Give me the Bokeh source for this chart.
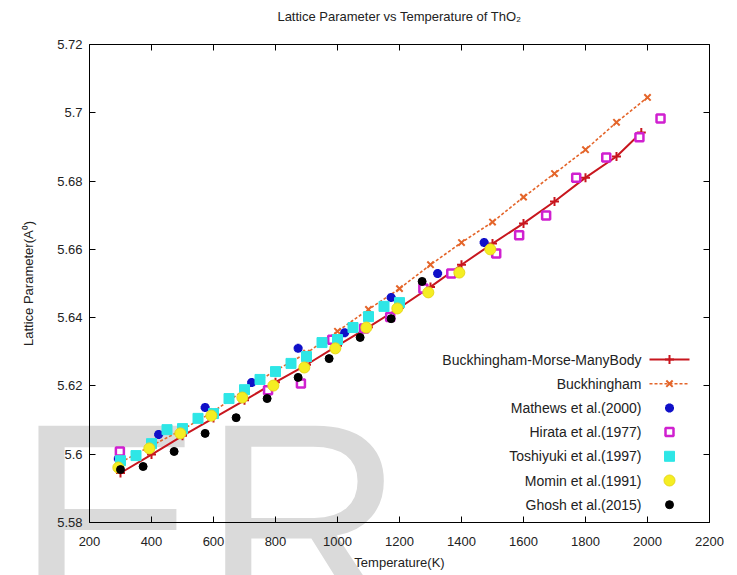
from bokeh.plotting import figure
from bokeh.models import Range1d, LinearAxis, FixedTicker, Label
from bokeh.core.properties import value
from bokeh.embed import file_html
from bokeh.resources import INLINE

FONT = "Liberation Sans"

# ---------------- data ----------------
x_ticks = [200, 400, 600, 800, 1000, 1200, 1400, 1600, 1800, 2000, 2200]
y_ticks = [5.58, 5.60, 5.62, 5.64, 5.66, 5.68, 5.70, 5.72]
y_tick_labels = ["5.58", "5.6", "5.62", "5.64", "5.66", "5.68", "5.7", "5.72"]

bmm_T = [300, 400, 500, 600, 700, 800, 900, 1000, 1100, 1200, 1300, 1400,
         1500, 1600, 1700, 1800, 1900, 1980]
bmm_a = [5.5945, 5.5999, 5.6054, 5.6106, 5.6158, 5.6211, 5.6262, 5.6318,
         5.6372, 5.6429, 5.6490, 5.6555, 5.6617, 5.6676, 5.6740, 5.6810,
         5.6872, 5.6942]

buck_T = [300, 400, 500, 600, 700, 800, 900, 1000, 1100, 1200, 1300, 1400,
          1500, 1600, 1700, 1800, 1900, 2000]
buck_a = [5.5976, 5.6025, 5.6072, 5.6125, 5.6189, 5.6245, 5.6296, 5.6360,
          5.6424, 5.6485, 5.6555, 5.6620, 5.6680, 5.6753, 5.6822, 5.6892,
          5.6972, 5.7045]

mathews_T = [293, 423, 573, 723, 873, 1023, 1173, 1323, 1473]
mathews_a = [5.5987, 5.6058, 5.6137, 5.6210, 5.6310, 5.6356, 5.6459, 5.6529, 5.6620]

hirata_T = [298, 776, 882, 983, 1086, 1170, 1277, 1367, 1512, 1586, 1673,
            1770, 1867, 1974, 2042]
hirata_a = [5.6008, 5.6187, 5.6207, 5.6335, 5.6368, 5.6402, 5.6485, 5.6529,
            5.6588, 5.6641, 5.6699, 5.6810, 5.6869, 5.6928, 5.6983]

toshi_T = [300, 350, 400, 450, 500, 550, 600, 650, 700, 750, 800, 850, 900,
           950, 1000, 1050, 1100, 1150, 1200]
toshi_a = [5.5981, 5.5996, 5.6031, 5.6072, 5.6075, 5.6105, 5.6119, 5.6163,
           5.6189, 5.6219, 5.6242, 5.6266, 5.6286, 5.6327, 5.6336, 5.6371,
           5.6403, 5.6433, 5.6444]

momin_T = [293, 393, 493, 593, 693, 793, 893, 993, 1093, 1193, 1293, 1393, 1493]
momin_a = [5.5961, 5.6017, 5.6061, 5.6113, 5.6166, 5.6201, 5.6254, 5.6310,
           5.6371, 5.6427, 5.6474, 5.6532, 5.6600]

ghosh_T = [300, 373, 473, 573, 673, 773, 873, 973, 1073, 1173, 1273]
ghosh_a = [5.5955, 5.5964, 5.6008, 5.6061, 5.6107, 5.6163, 5.6225, 5.6280,
           5.6342, 5.6397, 5.6506]

legend_labels = ["Buckhingham-Morse-ManyBody", "Buckhingham", "Mathews et al.(2000)",
                 "Hirata et al.(1977)", "Toshiyuki et al.(1997)", "Momin et al.(1991)",
                 "Ghosh et al.(2015)"]

# ---------------- styles ----------------
RED = "#c8161e"
ORANGE = "#e4652a"
BLUE = "#1010c8"
MAGENTA = "#d020d0"
CYAN = "#2ee6e6"
YELLOW = "#f5ee22"
BLACK = "#000000"
TXT = "#222222"

W, H = 737, 575
FL, FR, FT, FB = 89, 709, 44, 522   # plot box edges in canvas px
XMIN, XMAX, YMIN, YMAX = 200, 2200, 5.58, 5.72
KX = (XMAX - XMIN) / (FR - FL)
KY = (YMAX - YMIN) / (FB - FT)

def px2x(px):
    return XMIN + (px - FL) * KX

def px2y(py):
    return YMAX - (py - FT) * KY

# the frame covers the whole canvas; axes sit at fixed locations on the plot box,
# so the watermark can extend past the box without being clipped
p = figure(width=W, height=H,
           x_range=Range1d(px2x(0), px2x(W)), y_range=Range1d(px2y(H), px2y(0)),
           output_backend="svg", toolbar_location=None,
           min_border_left=0, min_border_right=0, min_border_top=0, min_border_bottom=0,
           x_axis_label="Temperature(K)", y_axis_label="Lattice Parameter(A\u2070)")
p.title.visible = False
p.grid.visible = False
p.outline_line_color = None
p.background_fill_color = "white"
p.border_fill_color = "white"

xa, ya = p.xaxis[0], p.yaxis[0]
xa.fixed_location = YMIN
xa.bounds = (XMIN, XMAX)
ya.fixed_location = XMIN
ya.bounds = (YMIN, YMAX)
for ax in (xa, ya):
    ax.major_tick_in = 6
    ax.major_tick_out = 0
    ax.minor_tick_line_color = None
    ax.axis_line_color = "black"
    ax.major_label_text_font = FONT
    ax.major_label_text_font_size = "13px"
    ax.major_label_text_color = TXT
    ax.axis_label_text_font = FONT
    ax.axis_label_text_font_size = "13px"
    ax.axis_label_text_font_style = "normal"
    ax.axis_label_text_color = TXT

xa.ticker = FixedTicker(ticks=x_ticks)
ya.ticker = FixedTicker(ticks=y_ticks)
ya.major_label_overrides = {t: l for t, l in zip(y_ticks, y_tick_labels)}
xa.major_label_standoff = 14
xa.axis_label_standoff = 6
ya.major_label_standoff = 7
ya.axis_label_standoff = 18

p.add_layout(LinearAxis(ticker=FixedTicker(ticks=y_ticks), fixed_location=XMAX,
                        bounds=(YMIN, YMAX), major_tick_in=6, major_tick_out=0,
                        minor_tick_line_color=None, major_label_standoff=0,
                        major_label_overrides={t: "" for t in y_ticks},
                        axis_line_color="black"), "right")
p.add_layout(LinearAxis(ticker=FixedTicker(ticks=x_ticks), fixed_location=YMAX,
                        bounds=(XMIN, XMAX), major_tick_in=6, major_tick_out=0,
                        minor_tick_line_color=None, major_label_standoff=0,
                        major_label_overrides={t: "" for t in x_ticks},
                        axis_line_color="black"), "above")

# watermark, beneath everything else
wm = Label(x=px2x(15), y=px2y(365), text="ER",
           text_font=FONT, text_font_size="280px", text_color="#dadada",
           text_baseline="top", level="underlay")
p.add_layout(wm)

# title
ttl = Label(x=px2x((FL + FR) / 2), y=px2y(16),
            text="Lattice Parameter vs Temperature of ThO\u2082", text_font=FONT,
            text_font_size="13px", text_align="center", text_baseline="middle",
            text_color=TXT)
p.add_layout(ttl)

# model lines
p.line(bmm_T, bmm_a, line_color=RED, line_width=2)
p.scatter(bmm_T, bmm_a, marker="cross", size=9, line_color=RED, line_width=2)
p.line(buck_T, buck_a, line_color=ORANGE, line_width=1.6, line_dash="3 2")
p.scatter(buck_T, buck_a, marker="x", size=9, line_color=ORANGE, line_width=2)

# experimental points
MK = dict(
    mathews=dict(marker="asterisk", size=9, line_color=BLUE, line_width=3),
    hirata=dict(marker="square", size=8, fill_color="white", line_color=MAGENTA, line_width=2.5),
    toshi=dict(marker="square", size=10, fill_color=CYAN, line_color=CYAN),
    momin=dict(marker="circle", size=11, fill_color=YELLOW, line_color="#e8d81a"),
    ghosh=dict(marker="circle", size=8, fill_color=BLACK, line_color=BLACK),
)
p.scatter(mathews_T, mathews_a, **MK["mathews"])
p.scatter(hirata_T, hirata_a, **MK["hirata"])
p.scatter(toshi_T, toshi_a, **MK["toshi"])
p.scatter(momin_T, momin_a, **MK["momin"])
p.scatter(ghosh_T, ghosh_a, **MK["ghosh"])

# legend (right-aligned text, sample to the right)
row_px = [359 + 24.2 * i for i in range(len(legend_labels))]
row_y = [px2y(r) for r in row_px]
text_x = px2x(641)
p.text([text_x] * len(legend_labels), row_y, text=legend_labels, text_align="right",
       text_baseline="middle", text_font=value(FONT), text_font_size="14px",
       text_color=TXT)
sx0, sx1, sxm = px2x(649), px2x(689), px2x(669)
p.line([sx0, sx1], [row_y[0]] * 2, line_color=RED, line_width=2)
p.scatter([sxm], [row_y[0]], marker="cross", size=9, line_color=RED, line_width=2)
p.line([sx0, sx1], [row_y[1]] * 2, line_color=ORANGE, line_width=1.6, line_dash="3 2")
p.scatter([sxm], [row_y[1]], marker="x", size=9, line_color=ORANGE, line_width=2)
for i, key in enumerate(["mathews", "hirata", "toshi", "momin", "ghosh"]):
    p.scatter([sxm], [row_y[i + 2]], **MK[key])

open("out.html", "w").write(file_html(p, INLINE))
